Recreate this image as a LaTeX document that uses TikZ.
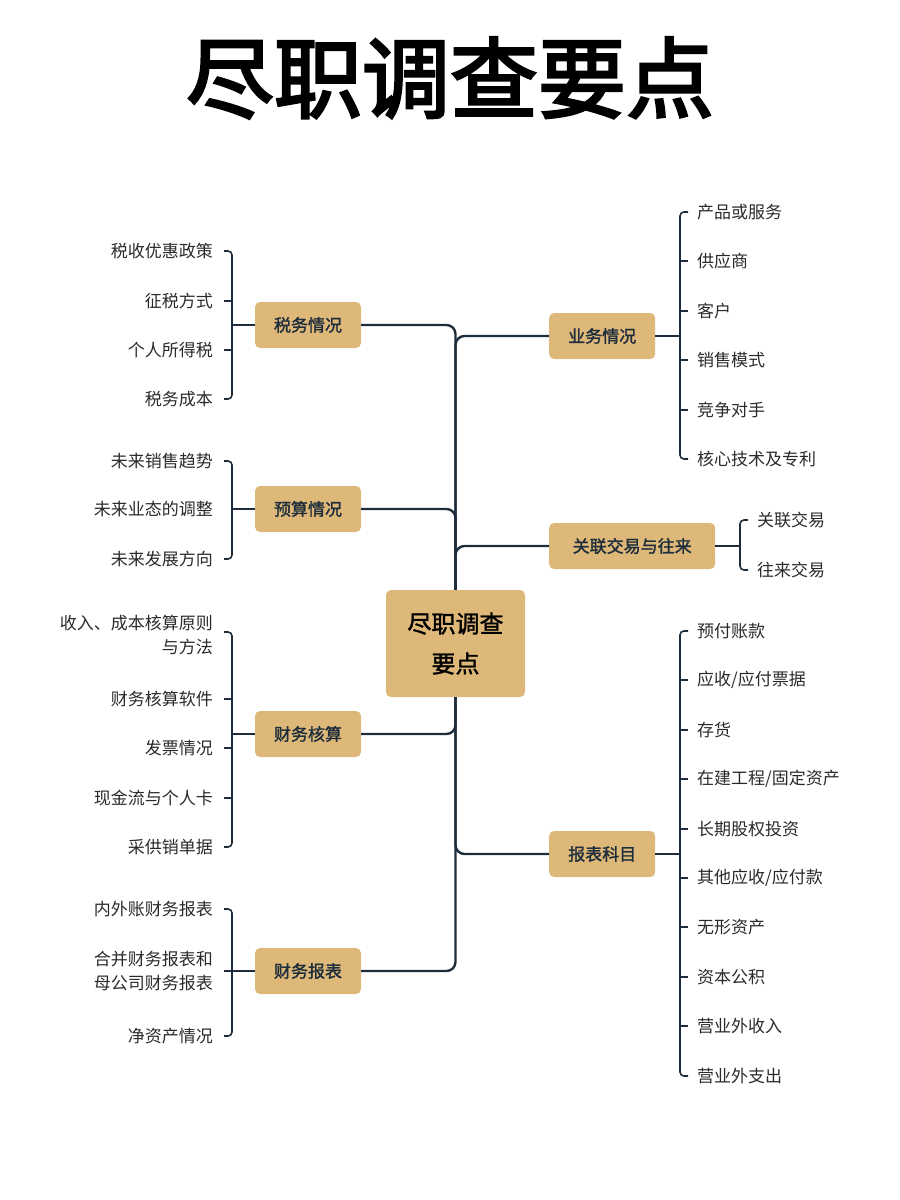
\documentclass[tikz,border=0pt]{standalone}
\usepackage{fontspec}
\setmainfont{Noto Sans CJK SC}[BoldFont=*,BoldFeatures={FakeBold=1.5}]
\newfontfamily\cjkb{Noto Sans CJK SC}[FakeBold=3]
\definecolor{boxc}{HTML}{DDB878}
\definecolor{linec}{HTML}{1E2D3B}
\definecolor{txt}{HTML}{2A2A2A}
\tikzset{
 leafL/.style={anchor=east,font=\fontsize{17}{24}\selectfont,text=txt,align=right,inner sep=0pt},
 leafR/.style={anchor=west,font=\fontsize{17}{24}\selectfont,text=txt,align=left,inner sep=0pt},
 conn/.style={draw=linec,line width=2.4pt,rounded corners=9pt},
 brk/.style={draw=linec,line width=1.6pt,rounded corners=4pt},
 bx/.style={fill=boxc,rounded corners=5pt,minimum height=46pt,font=\fontsize{17}{20}\selectfont\bfseries,text=linec},
}
\begin{document}
\begin{tikzpicture}[x=1pt,y=-1pt]
\useasboundingbox (0,0) rectangle (900,1200);
\node[font=\fontsize{88}{90}\selectfont\cjkb] (title) at (450,78) {尽职调查要点};
\node[fill=boxc,rounded corners=5pt,minimum width=139pt,minimum height=107pt,align=center,font=\fontsize{24}{40}\selectfont\bfseries] (c) at (455.5,643.5) {尽职调查\\要点};
\foreach \n/\t/\y in {a/税务情况/325,b/预算情况/509,d/财务核算/734,e/财务报表/971}{
 \node[bx,minimum width=106pt] (\n) at (308,\y) {\t};
}
\foreach \n/\t/\y/\w in {f/业务情况/336/106,g/关联交易与往来/546/166,h/报表科目/854/106}{
 \node[bx,minimum width=\w pt,anchor=west] (\n) at (549,\y) {\t};
}
\foreach \n in {a,b}{\draw[conn] (\n.east) -| (c.north);}
\foreach \n in {d,e}{\draw[conn] (\n.east) -| (c.south);}
\foreach \n in {f,g}{\draw[conn] (\n.west) -| (c.north);}
\draw[conn] (h.west) -| (c.south);
\foreach \t/\y in {税收优惠政策/251,征税方式/301,个人所得税/350,税务成本/399,未来销售趋势/461,未来业态的调整/509,未来发展方向/559,财务核算软件/699,发票情况/748,现金流与个人卡/798,采供销单据/847,内外账财务报表/909,净资产情况/1036}{
 \node[leafL] at (213,\y) {\t};}
\node[leafL] at (213,635) {收入、成本核算原则\\与方法};
\node[leafL] at (213,971) {合并财务报表和\\母公司财务报表};
\foreach \top/\bot in {251/399,461/559,632/847,909/1036}{
 \draw[brk] (224,\top) -- (232,\top) -- (232,\bot) -- (224,\bot);
}
\foreach \n/\y in {a/325,b/509,d/734,e/971}{\draw[brk,rounded corners=0] (\n.west) -- (232,\y);}
\foreach \y in {301,350,699,748,798,971}{\draw[brk,rounded corners=0] (224,\y) -- (232,\y);}
\foreach \t/\y in {产品或服务/212,供应商/261,客户/311,销售模式/360,竞争对手/410,核心技术及专利/459,预付账款/631,{应收/应付票据}/680,存货/730,{在建工程/固定资产}/779,长期股权投资/829,{其他应收/应付款}/878,无形资产/927,资本公积/977,营业外收入/1026,营业外支出/1076}{
 \node[leafR] at (697,\y) {\t};}
\foreach \t/\y in {关联交易/520,往来交易/570}{\node[leafR] at (757,\y) {\t};}
\foreach \x/\top/\bot in {680/212/459,680/631/1076,740/520/570}{
 \draw[brk] (\x+8,\top) -- (\x,\top) -- (\x,\bot) -- (\x+8,\bot);}
\foreach \y in {261,311,360,410,680,730,779,829,878,927,977,1026}{\draw[brk,rounded corners=0] (680,\y) -- (688,\y);}
\draw[brk,rounded corners=0] (f.east) -- (680,336);
\draw[brk,rounded corners=0] (g.east) -- (740,546);
\draw[brk,rounded corners=0] (h.east) -- (680,854);
\end{tikzpicture}
\end{document}
